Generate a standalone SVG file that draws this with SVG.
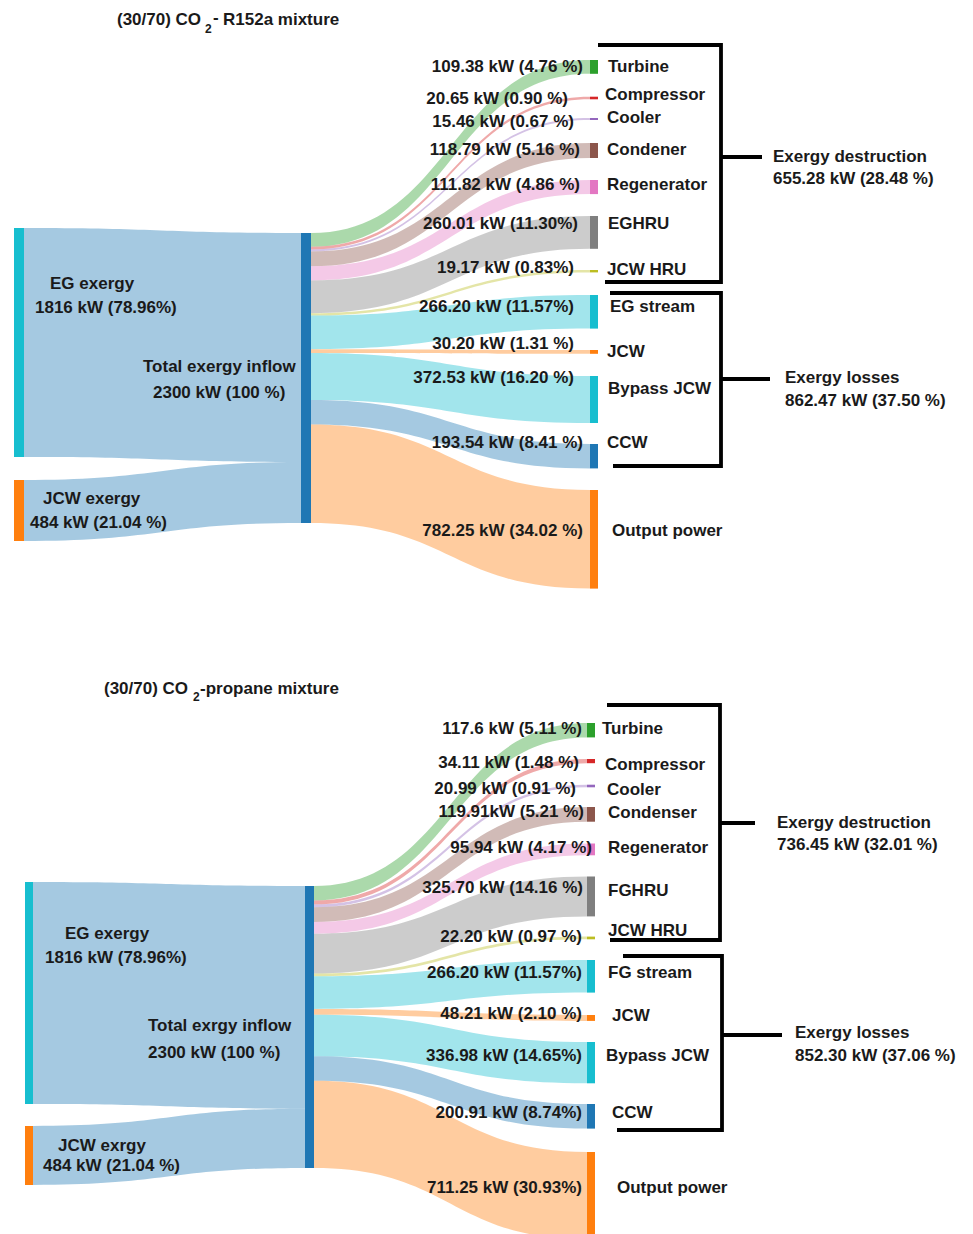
<svg xmlns="http://www.w3.org/2000/svg" width="973" height="1234" viewBox="0 0 973 1234">
<style>
.t{font-family:"Liberation Sans",Arial,sans-serif;font-weight:bold;font-size:17px;fill:#1a1a1a}
.v{text-anchor:end}
.ttl{font-size:17px}
.sub{font-size:12px}
.lk{fill-opacity:0.4}
.br{fill:none;stroke:#000;stroke-width:3.8}
.green{fill:#2ca02c}.red{fill:#d62728}.purple{fill:#9467bd}.brown{fill:#8c564b}.pink{fill:#e377c2}.gray{fill:#7f7f7f}.olive{fill:#bcbd22}.cyan{fill:#17becf}.orange{fill:#ff7f0e}.blue{fill:#1f77b4}
</style>
<rect width="973" height="1234" fill="#fff"/>

<!-- ================= TOP CHART ================= -->
<text class="t ttl" x="117" y="25">(30/70) CO<tspan class="sub" x="205" y="33">2</tspan><tspan x="213" y="23">-</tspan><tspan x="223" y="25">R152a mixture</tspan></text>

<g id="links-top">
<path class="lk blue" d="M24 228C162.5 228 162.5 233 301 233L301 462C162.5 462 162.5 457 24 457Z"/>
<path class="lk blue" d="M24 480C162.5 480 162.5 462 301 462L301 523C162.5 523 162.5 541 24 541Z"/>
<path class="lk green" d="M311 233C450.5 233 450.5 60 590 60L590 73.8C450.5 73.8 450.5 246.8 311 246.8Z"/>
<path class="lk red" d="M311 246.8C450.5 246.8 450.5 96.7 590 96.7L590 99.3C450.5 99.3 450.5 249.4 311 249.4Z"/>
<path class="lk purple" d="M311 249.4C450.5 249.4 450.5 118 590 118L590 120C450.5 120 450.5 251.4 311 251.4Z"/>
<path class="lk brown" d="M311 251.4C450.5 251.4 450.5 143 590 143L590 158C450.5 158 450.5 266.3 311 266.3Z"/>
<path class="lk pink" d="M311 266.3C450.5 266.3 450.5 180 590 180L590 194.1C450.5 194.1 450.5 280.4 311 280.4Z"/>
<path class="lk gray" d="M311 280.4C450.5 280.4 450.5 216 590 216L590 248.8C450.5 248.8 450.5 313.2 311 313.2Z"/>
<path class="lk olive" d="M311 313.2C450.5 313.2 450.5 270 590 270L590 272.4C450.5 272.4 450.5 315.6 311 315.6Z"/>
<path class="lk cyan" d="M311 315.6C450.5 315.6 450.5 295 590 295L590 328.6C450.5 328.6 450.5 349.2 311 349.2Z"/>
<path class="lk orange" d="M311 349.2C450.5 349.2 450.5 350 590 350L590 353.8C450.5 353.8 450.5 353 311 353Z"/>
<path class="lk cyan" d="M311 353C450.5 353 450.5 376 590 376L590 423C450.5 423 450.5 400 311 400Z"/>
<path class="lk blue" d="M311 400C450.5 400 450.5 444 590 444L590 468.4C450.5 468.4 450.5 424.4 311 424.4Z"/>
<path class="lk orange" d="M311 424.4C450.5 424.4 450.5 490 590 490L590 588.6C450.5 588.6 450.5 523 311 523Z"/>
</g>

<g id="top-eg-exergy"><rect class="cyan" x="14" y="228" width="10" height="229"/>
<text class="t" x="50" y="289">EG exergy</text><text class="t" x="35" y="313">1816 kW (78.96%)</text></g>
<g id="top-jcw-exergy"><rect class="orange" x="14" y="480" width="10" height="61"/>
<text class="t" x="43" y="504">JCW exergy</text><text class="t" x="30" y="528">484 kW (21.04 %)</text></g>
<g id="top-total"><rect class="blue" x="301" y="233" width="10" height="290"/>
<text class="t" x="143" y="372">Total exergy inflow</text><text class="t" x="153" y="398">2300 kW (100 %)</text></g>

<g id="top-turbine"><rect class="green" x="590" y="60" width="8" height="13.8"/>
<text class="t v" x="583" y="72">109.38 kW (4.76 %)</text><text class="t" x="608" y="72">Turbine</text></g>
<g id="top-compressor"><rect class="red" x="590" y="96.7" width="8" height="2.6"/>
<text class="t v" x="568" y="104">20.65 kW (0.90 %)</text><text class="t" x="605" y="100">Compressor</text></g>
<g id="top-cooler"><rect class="purple" x="590" y="118" width="8" height="2"/>
<text class="t v" x="574" y="127">15.46 kW (0.67 %)</text><text class="t" x="607" y="123">Cooler</text></g>
<g id="top-condener"><rect class="brown" x="590" y="143" width="8" height="15"/>
<text class="t v" x="580" y="155">118.79 kW (5.16 %)</text><text class="t" x="607" y="155">Condener</text></g>
<g id="top-regenerator"><rect class="pink" x="590" y="180" width="8" height="14.1"/>
<text class="t v" x="580" y="190">111.82 kW (4.86 %)</text><text class="t" x="607" y="190">Regenerator</text></g>
<g id="top-eghru"><rect class="gray" x="590" y="216" width="8" height="32.8"/>
<text class="t v" x="578" y="229">260.01 kW (11.30%)</text><text class="t" x="608" y="229">EGHRU</text></g>
<g id="top-jcwhru"><rect class="olive" x="590" y="270" width="8" height="2.4"/>
<text class="t v" x="574" y="273">19.17 kW (0.83%)</text><text class="t" x="607" y="275">JCW HRU</text></g>
<g id="top-egstream"><rect class="cyan" x="590" y="295" width="8" height="33.6"/>
<text class="t v" x="574" y="312">266.20 kW (11.57%)</text><text class="t" x="610" y="312">EG stream</text></g>
<g id="top-jcw"><rect class="orange" x="590" y="350" width="8" height="3.8"/>
<text class="t v" x="574" y="349">30.20 kW (1.31 %)</text><text class="t" x="607" y="357">JCW</text></g>
<g id="top-bypass"><rect class="cyan" x="590" y="376" width="8" height="47"/>
<text class="t v" x="574" y="383">372.53 kW (16.20 %)</text><text class="t" x="608" y="394">Bypass JCW</text></g>
<g id="top-ccw"><rect class="blue" x="590" y="444" width="8" height="24.4"/>
<text class="t v" x="583" y="448">193.54 kW (8.41 %)</text><text class="t" x="607" y="448">CCW</text></g>
<g id="top-output"><rect class="orange" x="590" y="490" width="8" height="98.6"/>
<text class="t v" x="583" y="536">782.25 kW (34.02 %)</text><text class="t" x="612" y="536">Output power</text></g>

<g id="top-destruction"><path class="br" d="M598 45H721V282H605M721 157H762"/>
<text class="t" x="773" y="162">Exergy destruction</text><text class="t" x="773" y="184">655.28 kW (28.48 %)</text></g>
<g id="top-losses"><path class="br" d="M610 293H721V466H613M721 379H770"/>
<text class="t" x="785" y="383">Exergy losses</text><text class="t" x="785" y="406">862.47 kW (37.50 %)</text></g>

<!-- ================= BOTTOM CHART ================= -->
<text class="t ttl" x="104" y="694">(30/70) CO<tspan class="sub" x="193" y="701">2</tspan><tspan x="200" y="694">-propane mixture</tspan></text>

<g id="links-bottom">
<path class="lk blue" d="M33 882C169 882 169 886 305 886L305 1108.7C169 1108.7 169 1104 33 1104Z"/>
<path class="lk blue" d="M33 1126C169 1126 169 1108.7 305 1108.7L305 1168C169 1168 169 1185 33 1185Z"/>
<path class="lk green" d="M314 886C450.5 886 450.5 723 587 723L587 737.4C450.5 737.4 450.5 900.4 314 900.4Z"/>
<path class="lk red" d="M314 900.4C450.5 900.4 450.5 759 587 759L587 763.2C450.5 763.2 450.5 904.6 314 904.6Z"/>
<path class="lk purple" d="M314 904.6C450.5 904.6 450.5 784.7 587 784.7L587 787.3C450.5 787.3 450.5 907.2 314 907.2Z"/>
<path class="lk brown" d="M314 907.2C450.5 907.2 450.5 807 587 807L587 821.7C450.5 821.7 450.5 921.9 314 921.9Z"/>
<path class="lk pink" d="M314 921.9C450.5 921.9 450.5 843.5 587 843.5L587 855.3C450.5 855.3 450.5 933.7 314 933.7Z"/>
<path class="lk gray" d="M314 933.7C450.5 933.7 450.5 876.5 587 876.5L587 916.4C450.5 916.4 450.5 973.6 314 973.6Z"/>
<path class="lk olive" d="M314 973.6C450.5 973.6 450.5 936.6 587 936.6L587 939.3C450.5 939.3 450.5 976.3 314 976.3Z"/>
<path class="lk cyan" d="M314 976.3C450.5 976.3 450.5 960 587 960L587 992.6C450.5 992.6 450.5 1008.9 314 1008.9Z"/>
<path class="lk orange" d="M314 1008.9C450.5 1008.9 450.5 1015 587 1015L587 1020.9C450.5 1020.9 450.5 1014.8 314 1014.8Z"/>
<path class="lk cyan" d="M314 1014.8C450.5 1014.8 450.5 1042 587 1042L587 1083.3C450.5 1083.3 450.5 1056.2 314 1056.2Z"/>
<path class="lk blue" d="M314 1056.2C450.5 1056.2 450.5 1104 587 1104L587 1128.6C450.5 1128.6 450.5 1080.8 314 1080.8Z"/>
<path class="lk orange" d="M314 1080.8C450.5 1080.8 450.5 1152 587 1152L587 1239.2C450.5 1239.2 450.5 1168 314 1168Z"/>
</g>

<g id="bot-eg-exergy"><rect class="cyan" x="25" y="882" width="8" height="222"/>
<text class="t" x="65" y="939">EG exergy</text><text class="t" x="45" y="963">1816 kW (78.96%)</text></g>
<g id="bot-jcw-exergy"><rect class="orange" x="25" y="1126" width="8" height="59"/>
<text class="t" x="58" y="1151">JCW exrgy</text><text class="t" x="43" y="1171">484 kW (21.04 %)</text></g>
<g id="bot-total"><rect class="blue" x="305" y="886" width="9" height="282"/>
<text class="t" x="148" y="1031">Total exrgy inflow</text><text class="t" x="148" y="1058">2300 kW (100 %)</text></g>

<g id="bot-turbine"><rect class="green" x="587" y="723" width="8" height="14.4"/>
<text class="t v" x="582" y="734">117.6 kW (5.11 %)</text><text class="t" x="602" y="734">Turbine</text></g>
<g id="bot-compressor"><rect class="red" x="587" y="759" width="8" height="4.2"/>
<text class="t v" x="579" y="768">34.11 kW (1.48 %)</text><text class="t" x="605" y="770">Compressor</text></g>
<g id="bot-cooler"><rect class="purple" x="587" y="784.7" width="8" height="2.6"/>
<text class="t v" x="576" y="794">20.99 kW (0.91 %)</text><text class="t" x="607" y="795">Cooler</text></g>
<g id="bot-condenser"><rect class="brown" x="587" y="807" width="8" height="14.7"/>
<text class="t v" x="584" y="817">119.91kW (5.21 %)</text><text class="t" x="608" y="818">Condenser</text></g>
<g id="bot-regenerator"><rect class="pink" x="587" y="843.5" width="8" height="11.8"/>
<text class="t v" x="592" y="853">95.94 kW (4.17 %)</text><text class="t" x="608" y="853">Regenerator</text></g>
<g id="bot-fghru"><rect class="gray" x="587" y="876.5" width="8" height="39.9"/>
<text class="t v" x="583" y="893">325.70 kW (14.16 %)</text><text class="t" x="608" y="896">FGHRU</text></g>
<g id="bot-jcwhru"><rect class="olive" x="587" y="936.6" width="8" height="2.7"/>
<text class="t v" x="582" y="942">22.20 kW (0.97 %)</text><text class="t" x="608" y="936">JCW HRU</text></g>
<g id="bot-fgstream"><rect class="cyan" x="587" y="960" width="8" height="32.6"/>
<text class="t v" x="582" y="978">266.20 kW (11.57%)</text><text class="t" x="608" y="978">FG stream</text></g>
<g id="bot-jcw"><rect class="orange" x="587" y="1015" width="8" height="5.9"/>
<text class="t v" x="582" y="1019">48.21 kW (2.10 %)</text><text class="t" x="612" y="1021">JCW</text></g>
<g id="bot-bypass"><rect class="cyan" x="587" y="1042" width="8" height="41.3"/>
<text class="t v" x="582" y="1061">336.98 kW (14.65%)</text><text class="t" x="606" y="1061">Bypass JCW</text></g>
<g id="bot-ccw"><rect class="blue" x="587" y="1104" width="8" height="24.6"/>
<text class="t v" x="582" y="1118">200.91 kW (8.74%)</text><text class="t" x="612" y="1118">CCW</text></g>
<g id="bot-output"><rect class="orange" x="587" y="1152" width="8" height="87.2"/>
<text class="t v" x="582" y="1193">711.25 kW (30.93%)</text><text class="t" x="617" y="1193">Output power</text></g>

<g id="bot-destruction"><path class="br" d="M607 705H720V940H610M720 823H755"/>
<text class="t" x="777" y="828">Exergy destruction</text><text class="t" x="777" y="850">736.45 kW (32.01 %)</text></g>
<g id="bot-losses"><path class="br" d="M623 956H722V1130H617M722 1035H782"/>
<text class="t" x="795" y="1038">Exergy losses</text><text class="t" x="795" y="1061">852.30 kW (37.06 %)</text></g>
</svg>
